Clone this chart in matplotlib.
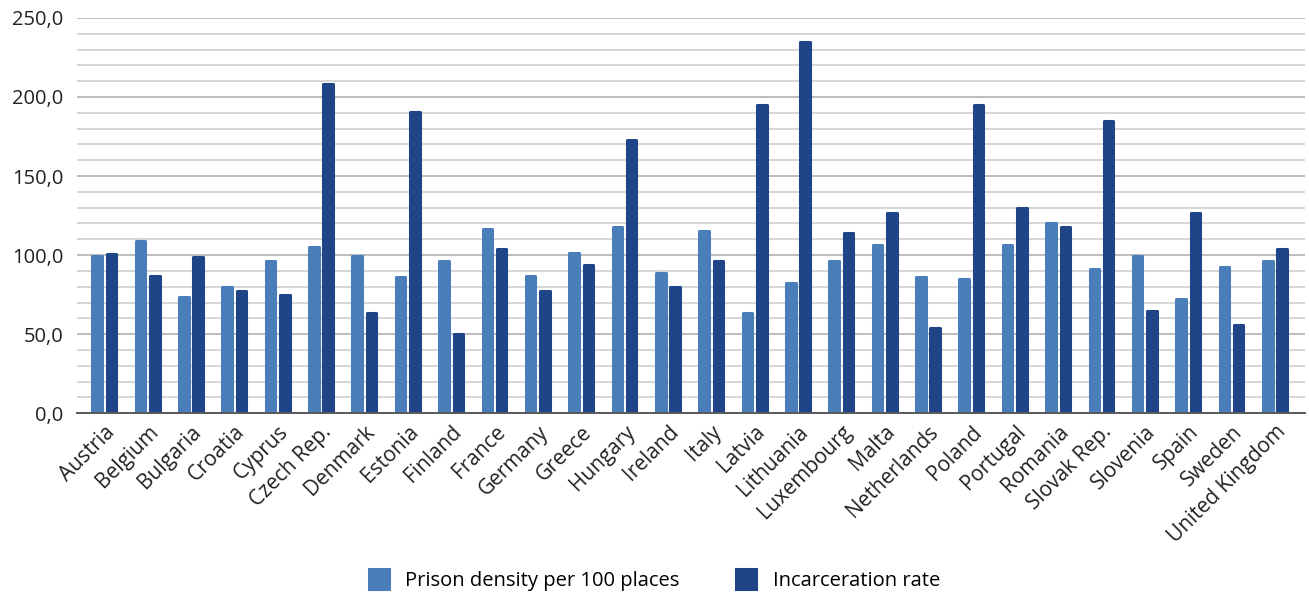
import matplotlib

matplotlib.use("Agg")
import matplotlib.pyplot as plt
import numpy as np
from matplotlib.ticker import FuncFormatter, MultipleLocator

plt.rcParams["font.family"] = ["Open Sans", "DejaVu Sans"]

countries = [
    "Austria", "Belgium", "Bulgaria", "Croatia", "Cyprus", "Czech Rep.",
    "Denmark", "Estonia", "Finland", "France", "Germany", "Greece",
    "Hungary", "Ireland", "Italy", "Latvia", "Lithuania", "Luxembourg",
    "Malta", "Netherlands", "Poland", "Portugal", "Romania", "Slovak Rep.",
    "Slovenia", "Spain", "Sweden", "United Kingdom",
]
density = [
    99.6, 108.9, 73.2, 79.7, 96.0, 104.9,
    99.6, 85.9, 96.0, 116.2, 87.1, 101.1,
    117.5, 88.4, 115.0, 63.1, 82.1, 96.0,
    106.1, 85.9, 84.6, 106.1, 120.0, 90.9,
    99.6, 72.0, 92.2, 96.0,
]
incarceration = [
    101.0, 87.1, 98.7, 77.2, 74.5, 208.4,
    63.1, 190.7, 50.4, 103.6, 77.0, 93.5,
    173.0, 79.7, 96.0, 194.7, 235.0, 113.7,
    126.4, 54.2, 194.7, 130.0, 117.5, 184.6,
    64.4, 126.4, 55.5, 103.6,
]

LIGHT = "#4a7ebb"
DARK = "#1f4487"

fig = plt.figure(figsize=(13.09, 5.98), dpi=100)
ax = fig.add_axes([0.0588, 0.309, 0.938, 0.661])

x = np.arange(len(countries))
w = 0.22
off = 0.165
# contour épais + joinstyle round -> coins arrondis comme dans Excel
ax.bar(x - off, density, w, color=LIGHT, edgecolor=LIGHT, linewidth=2.2,
       joinstyle="round", label="Prison density per 100 places", zorder=3)
ax.bar(x + off, incarceration, w, color=DARK, edgecolor=DARK, linewidth=2.2,
       joinstyle="round", label="Incarceration rate", zorder=3)

ax.set_xlim(-0.63, len(countries) - 1 + 0.69)
ax.set_ylim(0, 250)
ax.yaxis.set_major_locator(MultipleLocator(50))
ax.yaxis.set_minor_locator(MultipleLocator(10))
ax.yaxis.set_major_formatter(FuncFormatter(lambda v, _: f"{v:.1f}".replace(".", ",")))
ax.grid(axis="y", which="major", color="#bdbdbd", linewidth=1.4, zorder=0)
ax.grid(axis="y", which="minor", color="#d6d6d6", linewidth=1.4, zorder=0)

for s in ["top", "right", "left"]:
    ax.spines[s].set_visible(False)
ax.spines["bottom"].set_color("#595959")
ax.spines["bottom"].set_linewidth(1.4)
ax.spines["bottom"].set_zorder(4)

ax.set_xticks(x)
ax.set_xticklabels(countries, rotation=45, ha="right", rotation_mode="anchor")
ax.tick_params(axis="both", which="both", length=0, labelsize=14.5, colors="#222222")
ax.tick_params(axis="x", labelsize=15, pad=6)
ax.tick_params(axis="y", pad=10)

fig.legend(loc="center", bbox_to_anchor=(0.5, 0.03), ncol=2, frameon=False,
           fontsize=14.5, handlelength=1.0, handleheight=1.1, columnspacing=2.8,
           handletextpad=0.8)

fig.savefig("out.png", dpi=100)
